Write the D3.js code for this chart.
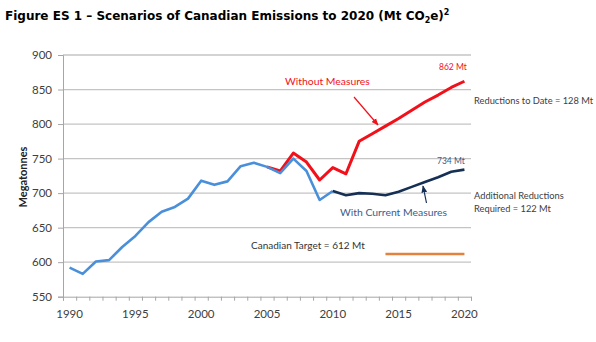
<!DOCTYPE html>
<meta charset="utf-8">
<style>
 body { margin: 0; background: #fff; }
 svg { font-family: Lato, 'Open Sans', sans-serif; }
</style>
<body>
<script src="https://cdn.jsdelivr.net/npm/d3@7"></script>
<script>

 // Historical emissions 1990-2010
 var histYears = [1990,1991,1992,1993,1994,1995,1996,1997,1998,1999,2000,2001,2002,2003,2004,2005,2006,2007,2008,2009,2010];
 var histValues = [592,583,601,603,622,638,658,673,680,692,718,712,717,739,744,738,729,750,732,690,703];

 // Without measures 2005-2020
 var withoutYears = [2005,2006,2007,2008,2009,2010,2011,2012,2013,2014,2015,2016,2017,2018,2019,2020];
 var withoutValues = [738,732,758,745,719,737,728,775,786,797,808,820,832,842,853,862];

 // With current measures 2010-2020
 var withYears = [2010,2011,2012,2013,2014,2015,2016,2017,2018,2019,2020];
 var withValues = [703,697,700,699,697,702,709,716,723,731,734];

 // Canadian target
 var targetYears = [2014, 2020];
 var targetValue = 612;

 var yTicks = [550,600,650,700,750,800,850,900];
 var xLabels = [1990,1995,2000,2005,2010,2015,2020];

 var width = 596, height = 342;

 var svg = d3.select("body").append("svg")
             .attr("width", width)
             .attr("height", height);

 var x = d3.scaleLinear().domain([1989.5, 2020.5]).range([63, 471]);
 var y = d3.scaleLinear().domain([550, 900]).range([296.7, 55]);

 // Title
 var title = svg.append("text")
    .attr("x", 5)
    .attr("y", 20)
    .attr("font-family", "'DejaVu Sans', Verdana, sans-serif")
    .attr("font-weight", "bold")
    .attr("font-size", "12px")
    .attr("fill", "#000");
 title.append("tspan").text("Figure ES 1 \u2013 Scenarios of Canadian Emissions to 2020 (Mt CO");
 title.append("tspan").attr("font-size", "8px").attr("dy", 3).text("2");
 title.append("tspan").attr("dy", -3).text("e)");
 title.append("tspan").attr("font-size", "8px").attr("dy", -5).text("2");

 // Gridlines
 svg.append("g").selectAll("line")
    .data(yTicks.filter(d => d > 550))
    .enter().append("line")
    .attr("x1", x.range()[0]).attr("x2", x.range()[1])
    .attr("y1", d => y(d)).attr("y2", d => y(d))
    .attr("stroke", "#c4c4c4")
    .attr("stroke-width", 1.3);

 // Y axis
 var yAxis = d3.axisLeft(y).tickValues(yTicks).tickSize(5).tickPadding(6);
 var gY = svg.append("g")
    .attr("transform", "translate(" + x.range()[0] + ",0)")
    .call(yAxis);
 gY.select(".domain").attr("stroke", "#a6a6a6");
 gY.selectAll(".tick line").attr("stroke", "#a6a6a6");
 gY.selectAll(".tick text").attr("fill", "#404040").attr("font-size", "11.5px")
   .attr("font-family", "Lato, sans-serif");

 // X axis, ticks between categories
 var xAxis = d3.axisBottom(x)
    .tickValues(d3.range(1989.5, 2021, 1))
    .tickSize(4)
    .tickFormat("");
 var gX = svg.append("g")
    .attr("transform", "translate(0," + y(550) + ")")
    .call(xAxis);
 gX.select(".domain").attr("stroke", "#a6a6a6");
 gX.selectAll(".tick line").attr("stroke", "#a6a6a6");

 svg.append("g").selectAll("text")
    .data(xLabels)
    .enter().append("text")
    .attr("x", d => x(d))
    .attr("y", 318)
    .attr("text-anchor", "middle")
    .attr("font-size", "11.5px")
    .attr("fill", "#404040")
    .text(d => d);

 // Y label
 svg.append("text")
    .attr("transform", "translate(27,177) rotate(-90)")
    .attr("text-anchor", "middle")
    .attr("font-size", "11px")
    .attr("font-weight", "bold")
    .attr("fill", "#222")
    .text("Megatonnes");

 var line = d3.line()
    .x(d => x(d[0]))
    .y(d => y(d[1]));

 // Target
 svg.append("path")
    .datum(targetYears.map(d => [d, targetValue]))
    .attr("fill", "none")
    .attr("stroke", "#e3823f")
    .attr("stroke-width", 2.5)
    .attr("d", line);

 // Without measures
 svg.append("path")
    .datum(d3.zip(withoutYears, withoutValues))
    .attr("fill", "none")
    .attr("stroke", "#f2101a")
    .attr("stroke-width", 3)
    .attr("stroke-linejoin", "round")
    .attr("d", line);

 // Historical
 svg.append("path")
    .datum(d3.zip(histYears, histValues))
    .attr("fill", "none")
    .attr("stroke", "#4a8fd9")
    .attr("stroke-width", 2.6)
    .attr("stroke-linejoin", "round")
    .attr("d", line);

 // With current measures
 svg.append("path")
    .datum(d3.zip(withYears, withValues))
    .attr("fill", "none")
    .attr("stroke", "#152f55")
    .attr("stroke-width", 2.6)
    .attr("stroke-linejoin", "round")
    .attr("d", line);

 // Arrow markers
 var defs = svg.append("defs");
 function marker(id, color) {
     defs.append("marker")
        .attr("id", id)
        .attr("viewBox", "0 0 10 10")
        .attr("refX", 9).attr("refY", 5)
        .attr("markerWidth", 6).attr("markerHeight", 6)
        .attr("orient", "auto")
        .append("path")
        .attr("d", "M0,1L10,5L0,9z")
        .attr("fill", color);
 }
 marker("arrRed", "#f2101a");
 marker("arrNavy", "#152f55");

 svg.append("line")
    .attr("x1", 354).attr("y1", 97).attr("x2", 378).attr("y2", 125)
    .attr("stroke", "#f2101a").attr("stroke-width", 1.2)
    .attr("marker-end", "url(#arrRed)");

 svg.append("line")
    .attr("x1", 426.5).attr("y1", 203).attr("x2", 423).attr("y2", 186)
    .attr("stroke", "#152f55").attr("stroke-width", 1.2)
    .attr("marker-end", "url(#arrNavy)");

 // Annotations
 function label(tx, ty, txt, color, size) {
     svg.append("text")
        .attr("x", tx).attr("y", ty)
        .attr("font-size", size + "px")
        .attr("fill", color)
        .text(txt);
 }
 label(285, 85, "Without Measures", "#f2101a", 10.4);
 label(439, 70, "862 Mt", "#f2101a", 8.5);
 label(437, 164, "734 Mt", "#3b5c8c", 8.5);
 label(340, 216, "With Current Measures", "#3b5c8c", 10.4);
 label(474, 104, "Reductions to Date = 128 Mt", "#404040", 9.3);
 label(474, 199, "Additional Reductions", "#404040", 9.3);
 label(474, 212, "Required = 122 Mt", "#404040", 9.3);
 label(251, 249, "Canadian Target = 612 Mt", "#333", 10);

</script>
</body>
